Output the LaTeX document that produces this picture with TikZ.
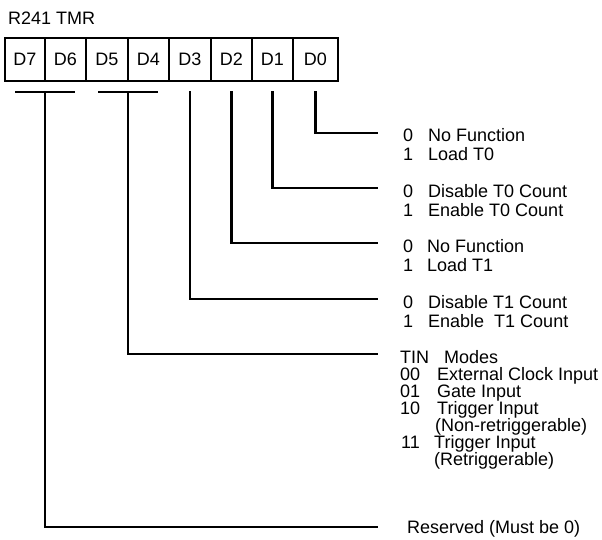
\documentclass[tikz,border=0pt]{standalone}
\usepackage{fontspec}
\setmainfont{Liberation Sans}
\begin{document}
\begin{tikzpicture}[x=1pt,y=-1pt,
  cell/.style={draw,line width=2pt,minimum height=43pt,inner sep=0pt,anchor=center,font=\fontsize{18}{19}\selectfont},
  conn/.style={line width=2.6pt,line cap=rect},
  txt/.style={anchor=base west,inner sep=0pt,font=\fontsize{18}{19}\selectfont}]
\useasboundingbox (0,0) rectangle (602,539);
\node[txt] (title) at (8,24) {R241 TMR};
% register cells
\node[cell,minimum width=40pt] (d7) at (25,59.5) {D7};
\node[cell,minimum width=41pt] (d6) at (65.5,59.5) {D6};
\node[cell,minimum width=42pt] (d5) at (107,59.5) {D5};
\node[cell,minimum width=41pt] (d4) at (148.5,59.5) {D4};
\node[cell,minimum width=42pt] (d3) at (190,59.5) {D3};
\node[cell,minimum width=41pt] (d2) at (231.5,59.5) {D2};
\node[cell,minimum width=41pt] (d1) at (272.5,59.5) {D1};
\node[cell,minimum width=45pt] (d0) at (315.5,59.5) {D0};
% group bars
\coordinate (j76) at (45,92);
\coordinate (j54) at (128,92);
\draw[conn] (16,92) -- (74,92);
\draw[conn] (99,92) -- (157,92);
% right ends
\coordinate (e0) at (377,133);
\coordinate (e1) at (377,188);
\coordinate (e2) at (377,243);
\coordinate (e3) at (377,299);
\coordinate (e54) at (377,354);
\coordinate (e76) at (377,527);
% connectors
\draw[conn] ([yshift=-10pt]d0.south) |- (e0);
\draw[conn] ([yshift=-10pt]d1.south) |- (e1);
\draw[conn] ([yshift=-10pt]d2.south) |- (e2);
\draw[conn] ([yshift=-10pt]d3.south) |- (e3);
\draw[conn] (j54) |- (e54);
\draw[conn] (j76) |- (e76);
% labels
\node[txt] (a0) at (403,141) {0};
\node[txt] (a0t) at (428,141) {No Function};
\node[txt] (a1) at (403,160) {1};
\node[txt] (a1t) at (428,160) {Load T0};
\node[txt] (b0) at (403,197) {0};
\node[txt] (b0t) at (428,197) {Disable T0 Count};
\node[txt] (b1) at (403,216) {1};
\node[txt] (b1t) at (428,216) {Enable T0 Count};
\node[txt] (c0) at (403,252) {0};
\node[txt] (c0t) at (427,252) {No Function};
\node[txt] (c1) at (403,271) {1};
\node[txt] (c1t) at (427,271) {Load T1};
\node[txt] (f0) at (403,308) {0};
\node[txt] (f0t) at (428,308) {Disable T1 Count};
\node[txt] (f1) at (403,327) {1};
\node[txt] (f1t) at (428,327) {Enable\ \ T1 Count};
\node[txt] (g0) at (400,363) {TIN};
\node[txt] (g0t) at (444,363) {Modes};
\node[txt] (g1) at (400,380) {00};
\node[txt] (g1t) at (437,380) {External Clock Input};
\node[txt] (g2) at (400,397) {01};
\node[txt] (g2t) at (437,397) {Gate Input};
\node[txt] (g3) at (400,414) {10};
\node[txt] (g3t) at (437,414) {Trigger Input};
\node[txt] (g4) at (435,431) {(Non-retriggerable)};
\node[txt] (g5) at (401,448) {11};
\node[txt] (g5t) at (434,448) {Trigger Input};
\node[txt] (g6) at (434,465) {(Retriggerable)};
\node[txt] (r) at (407,533) {Reserved (Must be 0)};
\end{tikzpicture}
\end{document}
